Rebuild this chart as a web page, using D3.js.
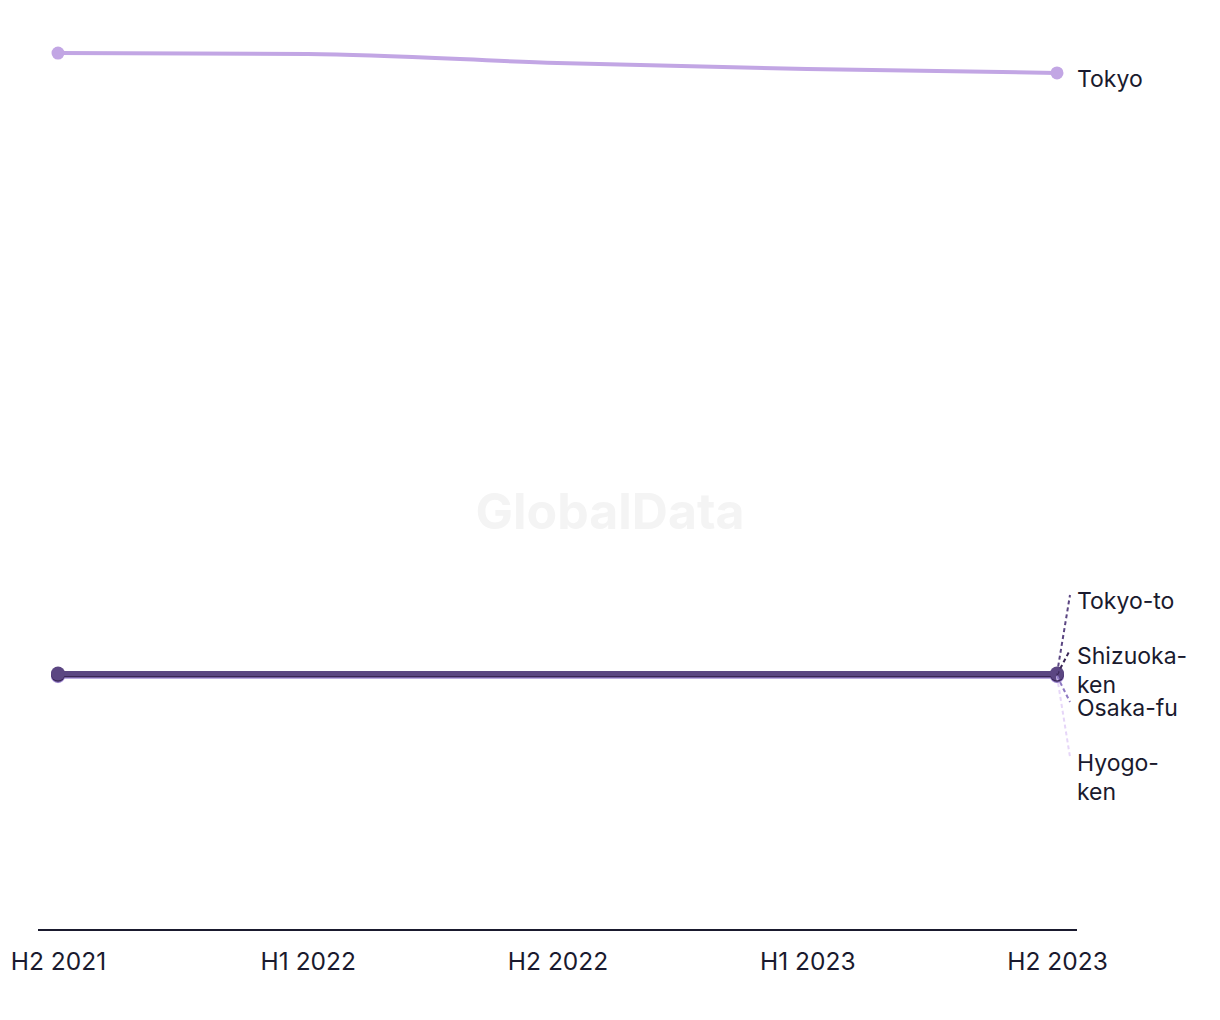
<!DOCTYPE html>
<html><head><meta charset="utf-8">
<script src="https://cdn.jsdelivr.net/npm/d3@7"></script>
<style>body{margin:0;background:#fff;}svg{display:block;font-family:Inter,"Noto Sans",sans-serif;}</style>
</head><body><svg id="c" width="1220" height="1020"></svg>
<script>
const periods = ["H2 2021","H1 2022","H2 2022","H1 2023","H2 2023"];
const seriesNames = ["Hyogo-ken","Osaka-fu","Shizuoka-ken","Tokyo-to","Tokyo"];
const hyogo = [846,846,846,846,846];
const osaka = [847,847,847,847,847];
const shizuoka = [851,851,851,851,851];
const tokyoTo = [855,855,855,855,855];
const tokyo = [2923,2920,2890,2870,2857];
const colors = ["#e6d6f8","#8e79c2","#3a2656","#5b4682","#c2a6e4"];
const labelLines = [["Hyogo-","ken"],["Osaka-fu"],["Shizuoka-","ken"],["Tokyo-to"],["Tokyo"]];
const labelY = [763,708,656,601,79];
const dashed = [true,true,true,true,false];

const data = [hyogo,osaka,shizuoka,tokyoTo,tokyo];
const svg = d3.select("#c");
const x = d3.scalePoint().domain(periods).range([58,1057]);
const y = d3.scaleLinear().domain([0,3000]).range([930,30]);

svg.append("text").attr("x",610).attr("y",529).attr("text-anchor","middle")
  .attr("font-size",50).attr("font-weight",700).attr("fill","#f4f4f4").text("GlobalData");

const axis = svg.append("g").attr("transform","translate(0,930)")
  .call(d3.axisBottom(x).tickSize(0).tickPadding(23));
axis.select(".domain").attr("d","M38,0H1077").attr("stroke","#1a1a2e").attr("stroke-width",2);
axis.selectAll("text").attr("font-size",24.5).attr("fill","#1a1a2e").attr("font-family","Inter,'Noto Sans',sans-serif");

const line = d3.line().x((d,i)=>x(periods[i])).y(d=>y(d)).curve(d3.curveMonotoneX);
data.forEach((vals,k)=>{
  svg.append("path").attr("d",line(vals)).attr("fill","none")
    .attr("stroke",colors[k]).attr("stroke-width",k===4?4:5);
  [0,vals.length-1].forEach(i=>{
    svg.append("circle").attr("cx",x(periods[i])).attr("cy",y(vals[i])).attr("r",k===4?6.5:7).attr("fill",colors[k]);
  });
});

data.forEach((vals,k)=>{
  const ex = x(periods[periods.length-1]), ey = y(vals[vals.length-1]);
  if(dashed[k]){
    svg.append("line").attr("x1",ex).attr("y1",ey).attr("x2",1070).attr("y2",labelY[k]-6)
      .attr("stroke",colors[k]).attr("stroke-width",2).attr("stroke-dasharray","4,3");
  }
  const t = svg.append("text").attr("x",1077).attr("y",labelY[k]+8).attr("font-size",23).attr("fill","#1a1a2e");
  labelLines[k].forEach((s,j)=>t.append("tspan").attr("x",1077).attr("dy",j?29:0).text(s));
});
</script></body></html>
